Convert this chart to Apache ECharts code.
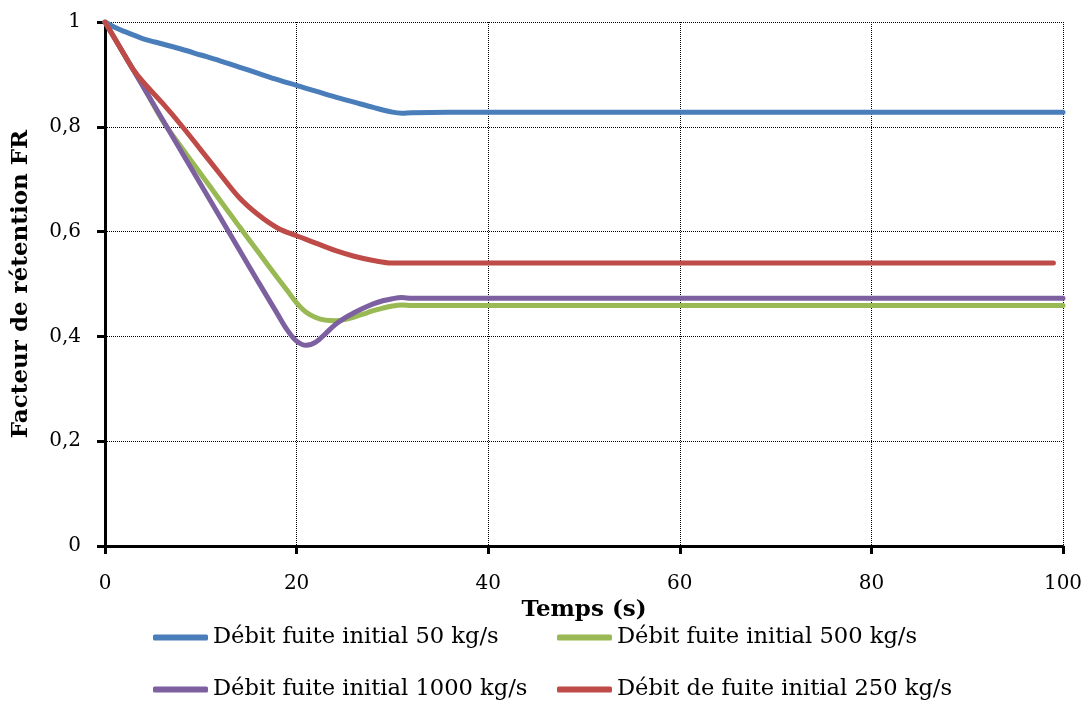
<!DOCTYPE html>
<html><head><meta charset="utf-8">
<script src="https://cdn.jsdelivr.net/npm/echarts@6/dist/echarts.min.js"></script>
<style>html,body{margin:0;padding:0;background:#fff}#c{width:1089px;height:702px}</style>
</head><body><div id="c"></div>
<script>
const seriesNames = ['Débit fuite initial 50 kg/s','Débit fuite initial 500 kg/s','Débit fuite initial 1000 kg/s','Débit de fuite initial 250 kg/s'];
const tBlue = [0,1,2,3,4,6,8,10,12,14,16,18,20,22,24,26,28,30,31,32,40,60,80,100];
const vBlue = [1,0.99,0.982,0.975,0.968,0.958,0.948,0.937,0.926,0.914,0.902,0.89,0.879,0.868,0.857,0.847,0.837,0.828,0.826,0.827,0.828,0.828,0.828,0.828];
const tGreen = [0,2,4,6,8,10,12,14,16,18,19,20,21,22,23,24,25,26,27,28,29,30,31,32,40,60,80,100];
const vGreen = [1,0.938,0.877,0.812,0.76,0.71,0.66,0.61,0.561,0.512,0.488,0.464,0.446,0.436,0.431,0.430,0.432,0.437,0.443,0.449,0.454,0.458,0.460,0.459,0.459,0.459,0.459,0.459];
const tPurple = [0,2,4,6,8,10,12,14,16,18,19,20,21,22,23,24,25,26,27,28,29,30,31,32,40,60,80,100];
const vPurple = [1,0.938,0.876,0.814,0.752,0.69,0.628,0.566,0.504,0.443,0.413,0.391,0.383,0.389,0.405,0.422,0.435,0.445,0.454,0.462,0.468,0.472,0.474,0.473,0.473,0.473,0.473,0.473];
const tRed = [0,2,3,4,6,8,10,12,14,16,18,20,22,24,26,28,30,32,40,60,80,99];
const vRed = [1,0.938,0.908,0.885,0.845,0.802,0.756,0.71,0.665,0.632,0.607,0.592,0.578,0.564,0.553,0.545,0.540,0.540,0.540,0.540,0.540,0.540];
const xTicks = [0,20,40,60,80,100];
const yTicks = [0,0.2,0.4,0.6,0.8,1];
const colors = ['#4A7EBB','#98B954','#7D60A0','#BE4B48'];

const zip = (t, v) => t.map((x, i) => [x, v[i]]);
const font = 'DejaVu Serif';
const chart = echarts.init(document.getElementById('c'));
const legendPos = [[153,626],[557,626],[153,678],[557,678]];
chart.setOption({
  animation: false,
  textStyle: {fontFamily: font},
  grid: {left: 105, right: 26, top: 22, bottom: 156, outerBoundsMode: 'none', containLabel: false},
  xAxis: {
    type: 'value', min: xTicks[0], max: xTicks[xTicks.length-1], interval: 20,
    name: 'Temps (s)', nameLocation: 'middle', nameGap: 47,
    nameTextStyle: {fontFamily: font, fontWeight: 'bold', fontSize: 23, color: '#000'},
    axisLine: {lineStyle: {color: '#000', width: 3}},
    axisTick: {show: true, length: 8, lineStyle: {color: '#000', width: 3}},
    axisLabel: {fontFamily: font, fontSize: 20, color: '#000', margin: 28},
    splitLine: {show: true, lineStyle: {color: '#000', type: 'dotted', width: 1}}
  },
  yAxis: {
    type: 'value', min: 0, max: 1, interval: 0.2,
    name: 'Facteur de rétention FR', nameLocation: 'middle', nameGap: 72,
    nameTextStyle: {fontFamily: font, fontWeight: 'bold', fontSize: 23, color: '#000'},
    axisLine: {show: true, lineStyle: {color: '#000', width: 3}},
    axisTick: {show: true, length: 8, lineStyle: {color: '#000', width: 3}},
    axisLabel: {fontFamily: font, fontSize: 20, color: '#000', margin: 24,
      formatter: v => String(Math.round(v*10)/10).replace('.', ',')},
    splitLine: {show: true, lineStyle: {color: '#000', type: 'dotted', width: 1}}
  },
  legend: seriesNames.map((n, i) => ({
    data: [n], left: legendPos[i][0], top: legendPos[i][1], padding: 0,
    icon: 'roundRect', itemWidth: 55, itemHeight: 6, itemGap: 0,
    textStyle: {fontFamily: font, fontSize: 22.6, color: '#000'}
  })),
  series: [
    [tBlue, vBlue], [tGreen, vGreen], [tPurple, vPurple], [tRed, vRed]
  ].map((d, i) => ({
    name: seriesNames[i], type: 'line', data: zip(d[0], d[1]),
    smooth: 0.35, symbol: 'none', color: colors[i],
    lineStyle: {width: 5, color: colors[i], cap: 'round'},
    z: [2,3,4,5][i]
  }))
});
</script></body></html>
